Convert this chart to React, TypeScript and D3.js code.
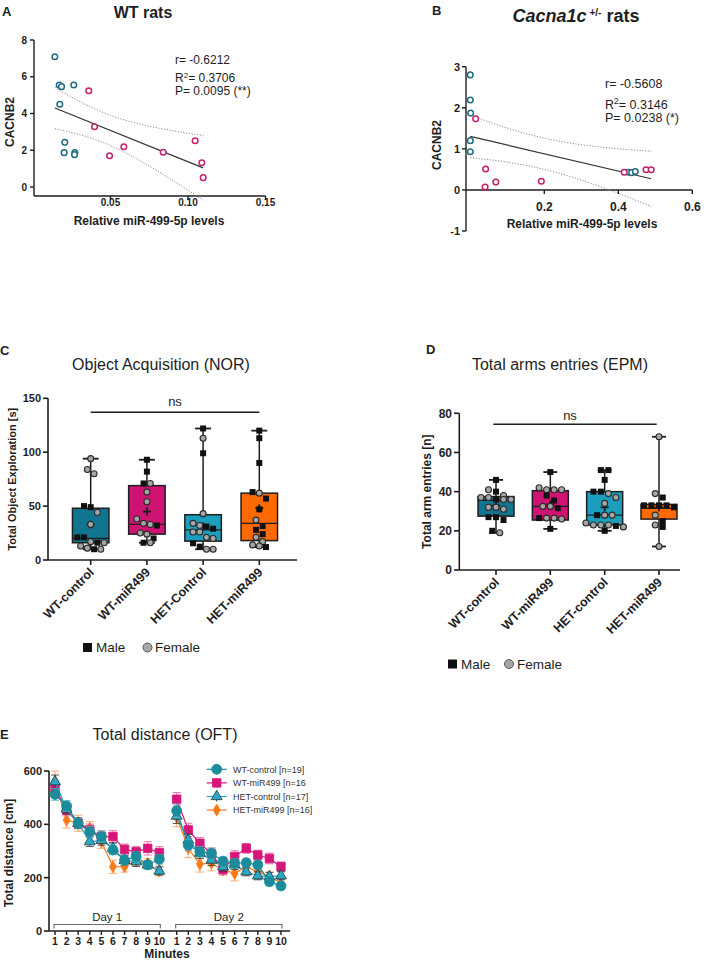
import React from "react";
import * as d3 from "d3";

const FONT = "'Liberation Sans', Arial, Helvetica, sans-serif";
const INK = "#1e1e1e";

// ---------------- Panel A : WT rats ----------------
const aWtControlX = [0.0141, 0.0169, 0.0184, 0.0263, 0.0173, 0.0205, 0.0201, 0.027, 0.0268];
const aWtControlY = [7.09, 5.55, 5.46, 5.55, 4.5, 2.43, 1.87, 1.87, 1.76];
const aWtMiRX = [0.036, 0.0397, 0.0494, 0.0586, 0.084, 0.1046, 0.1089, 0.1098];
const aWtMiRY = [5.24, 3.28, 1.7, 2.19, 1.89, 2.52, 1.32, 0.51];
const aXTicks = [0.05, 0.1, 0.15];
const aYTicks = [0, 2, 4, 6, 8];
const aStatR = "r= -0.6212";
const aStatR2 = "= 0.3706";
const aStatP = "P= 0.0095 (**)";

// ---------------- Panel B : Cacna1c +/- rats ----------------
const bHetControlX = [0.0, 0.0, 0.001, 0.0, 0.0, 0.427, 0.436, 0.446];
const bHetControlY = [2.8, 2.19, 1.87, 1.2, 0.93, 0.43, 0.42, 0.45];
const bHetMiRX = [0.0145, 0.0415, 0.04, 0.069, 0.192, 0.416, 0.475, 0.489];
const bHetMiRY = [1.73, 0.51, 0.07, 0.19, 0.21, 0.43, 0.49, 0.49];
const bXTicks = [0.2, 0.4, 0.6];
const bYTicks = [-1, 0, 1, 2, 3];
const bStatR = "r= -0.5608";
const bStatR2 = "= 0.3146";
const bStatP = "P= 0.0238 (*)";

// ---------------- Panel C : Object Acquisition (NOR) ----------------
const cGroups = ["WT-control", "WT-miR499", "HET-Control", "HET-miR499"];
const cMin = [10, 16, 10, 12];
const cQ1 = [16, 24, 17.5, 18];
const cMedian = [20, 33, 28, 34];
const cQ3 = [48, 69, 42, 62];
const cMax = [94, 93, 122, 120];
const cMean = [33, 45, 31, 48];
const cMale = [
  [50, 49, 21, 21, 16, 10],
  [93, 82, 71, 32, 20, 16],
  [122, 99, 31, 29, 15.5, 12.4],
  [120, 113, 90, 63, 57, 47, 31.5, 28, 24, 12],
];
const cFemale = [
  [94, 84, 80, 44, 33, 17, 16, 13, 11, 10],
  [71, 63, 54, 38, 34, 33, 25, 24, 16],
  [113, 43, 34, 32, 26, 26, 21, 20, 10, 10],
  [62, 37, 21, 17, 14, 13],
];
const cYTicks = [0, 50, 100, 150];

// ---------------- Panel D : Total arms entries (EPM) ----------------
const dGroups = ["WT-control", "WT-miR499", "HET-control", "HET-miR499"];
const dMin = [19, 21, 20, 12];
const dQ1 = [27.5, 25.5, 23, 26];
const dMedian = [35.5, 32.5, 28, 31.5];
const dQ3 = [37.5, 40.5, 40, 33.5];
const dMax = [46, 50, 51, 68];
const dMean = [33, 33.5, 32, 32];
const dMale = [
  [46, 40, 36, 27, 27, 25.5, 20],
  [50, 38, 35.5, 31.5, 26.5, 21],
  [51, 51, 46, 40, 40, 28, 22.5, 20],
  [37, 33, 33, 33, 33, 32, 25, 22],
];
const dFemale = [
  [41, 38, 37, 37, 36, 36, 32, 32, 31, 19],
  [42, 41, 41, 41, 32.5, 32.5, 26.5, 26.5, 26],
  [39, 37, 34, 28, 28, 24, 23, 23, 23, 22],
  [68, 39, 28, 23, 12],
];
const dYTicks = [0, 20, 40, 60, 80];

const boxColors = ["#12758f", "#cf1372", "#1a9fbd", "#ff6a00"];

// ---------------- Panel E : Total distance (OFT) ----------------
const eMinutes = ["1", "2", "3", "4", "5", "6", "7", "8", "9", "10"];
const eDays = ["Day 1", "Day 2"];
const eWtControl = [512, 469, 404, 372, 354, 304, 266, 279, 248, 269, 451, 322, 297, 291, 262, 254, 256, 248, 185, 169];
const eWtControlSem = [22, 20, 18, 20, 20, 18, 18, 18, 15, 18, 25, 20, 20, 20, 15, 18, 15, 15, 15, 12];
const eWtMiR = [537, 454, 404, 379, 354, 354, 306, 297, 310, 294, 494, 379, 329, 289, 231, 279, 310, 285, 272, 241];
const eWtMiRSem = [25, 22, 20, 22, 22, 22, 20, 20, 25, 22, 25, 25, 22, 22, 18, 22, 18, 18, 20, 18];
const eHetControl = [560, 458, 404, 335, 340, 310, 265, 260, 248, 225, 431, 341, 292, 266, 241, 248, 222, 207, 204, 207];
const eHetControlSem = [25, 20, 20, 18, 18, 20, 18, 18, 15, 15, 28, 22, 20, 20, 18, 18, 15, 15, 15, 15];
const eHetMiR = [560, 416, 404, 385, 335, 241, 241, 265, 253, 225, 426, 310, 251, 254, 229, 216, 241, 222, 204, 179];
const eHetMiRSem = [40, 30, 30, 25, 25, 25, 20, 20, 18, 18, 35, 35, 30, 28, 20, 28, 20, 20, 18, 18];
const eLegend = ["WT-control [n=19]", "WT-miR499 [n=16", "HET-control [n=17]", "HET-miR499 [n=16]"];
const eYTicks = [0, 200, 400, 600];

// ---------------- helpers ----------------
function regression(xs: number[], ys: number[], tCrit: number) {
  const n = xs.length;
  const mx = d3.mean(xs) as number;
  const my = d3.mean(ys) as number;
  let sxx = 0, sxy = 0;
  xs.forEach((x, i) => { sxx += (x - mx) ** 2; sxy += (x - mx) * (ys[i] - my); });
  const slope = sxy / sxx;
  const icpt = my - slope * mx;
  let sse = 0;
  xs.forEach((x, i) => { sse += (ys[i] - (icpt + slope * x)) ** 2; });
  const s = Math.sqrt(sse / (n - 2));
  const fit = (x: number) => icpt + slope * x;
  const half = (x: number) => tCrit * s * Math.sqrt(1 / n + (x - mx) ** 2 / sxx);
  return { fit, half, x0: d3.min(xs) as number, x1: d3.max(xs) as number };
}

function RegScatter(props: any) {
  const { x, y, g1x, g1y, g2x, g2y, tCrit, c1, c2 } = props;
  const xs = [...g1x, ...g2x];
  const ys = [...g1y, ...g2y];
  const reg = regression(xs, ys, tCrit);
  const samples = d3.range(0, 41).map((i) => reg.x0 + ((reg.x1 - reg.x0) * i) / 40);
  const up = d3.line<number>().x((v) => x(v)).y((v) => y(reg.fit(v) + reg.half(v)));
  const lo = d3.line<number>().x((v) => x(v)).y((v) => y(reg.fit(v) - reg.half(v)));
  return (
    <g>
      <path d={up(samples) as string} fill="none" stroke="#8a8a8a" strokeWidth={1} strokeDasharray="1.2,1.6" />
      <path d={lo(samples) as string} fill="none" stroke="#8a8a8a" strokeWidth={1} strokeDasharray="1.2,1.6" />
      <line x1={x(reg.x0)} y1={y(reg.fit(reg.x0))} x2={x(reg.x1)} y2={y(reg.fit(reg.x1))} stroke="#333" strokeWidth={1.2} />
      {g1x.map((v: number, i: number) => (
        <circle key={"a" + i} cx={x(v)} cy={y(g1y[i])} r={2.8} fill="white" stroke={c1} strokeWidth={1.5} />
      ))}
      {g2x.map((v: number, i: number) => (
        <circle key={"b" + i} cx={x(v)} cy={y(g2y[i])} r={2.8} fill="white" stroke={c2} strokeWidth={1.5} />
      ))}
    </g>
  );
}

function swarm(values: { v: number; male: boolean }[], y: (v: number) => number, d: number) {
  const sorted = [...values].sort((a, b) => b.v - a.v);
  const rows: { v: number; male: boolean }[][] = [];
  sorted.forEach((p) => {
    const row = rows[rows.length - 1];
    if (row && Math.abs(y(p.v) - y(row[0].v)) < d) row.push(p);
    else rows.push([p]);
  });
  const out: { v: number; male: boolean; dx: number }[] = [];
  rows.forEach((row) => {
    const k = row.length;
    row.forEach((p, i) => out.push({ ...p, dx: (i - (k - 1) / 2) * d }));
  });
  return out;
}

function BoxPanel(props: any) {
  const { groups, mins, q1s, meds, q3s, maxs, means, males, females, x, y, boxW, capW, dot, dotSize } = props;
  return (
    <g>
      {groups.map((g: string, i: number) => {
        const cx = x(g);
        const pts = swarm(
          [...males[i].map((v: number) => ({ v, male: true })), ...females[i].map((v: number) => ({ v, male: false }))],
          y,
          dot
        );
        return (
          <g key={g}>
            <line x1={cx} x2={cx} y1={y(maxs[i])} y2={y(q3s[i])} stroke={INK} strokeWidth={1.5} />
            <line x1={cx} x2={cx} y1={y(q1s[i])} y2={y(mins[i])} stroke={INK} strokeWidth={1.5} />
            <line x1={cx - capW / 2} x2={cx + capW / 2} y1={y(maxs[i])} y2={y(maxs[i])} stroke={INK} strokeWidth={1.8} />
            <line x1={cx - capW / 2} x2={cx + capW / 2} y1={y(mins[i])} y2={y(mins[i])} stroke={INK} strokeWidth={1.8} />
            <rect x={cx - boxW / 2} y={y(q3s[i])} width={boxW} height={y(q1s[i]) - y(q3s[i])} fill={boxColors[i]} stroke={INK} strokeWidth={1.5} />
            <line x1={cx - boxW / 2} x2={cx + boxW / 2} y1={y(meds[i])} y2={y(meds[i])} stroke={INK} strokeWidth={1.3} />
            <path d={`M${cx - 4},${y(means[i])}H${cx + 4}M${cx},${y(means[i]) - 4}V${y(means[i]) + 4}`} stroke={INK} strokeWidth={1.8} />
            {pts.map((p, j) =>
              p.male ? (
                <rect key={j} x={cx + p.dx - dotSize / 2} y={y(p.v) - dotSize / 2} width={dotSize} height={dotSize} fill="#111" />
              ) : (
                <circle key={j} cx={cx + p.dx} cy={y(p.v)} r={dotSize / 2} fill="#a6a6a6" stroke="#2a2a2a" strokeWidth={1.1} />
              )
            )}
          </g>
        );
      })}
    </g>
  );
}

function RotLabels(props: any) {
  const { groups, x, y0, size } = props;
  return (
    <g>
      {groups.map((g: string) => (
        <text key={g} transform={`translate(${x(g) + 4},${y0}) rotate(-45)`} textAnchor="end" fontSize={size} fontWeight="bold" fill={INK}>
          {g}
        </text>
      ))}
    </g>
  );
}

function MaleFemaleLegend(props: any) {
  const { sx, cx, tx1, tx2, yc, size } = props;
  return (
    <g fontSize={size} fill={INK}>
      <rect x={sx} y={yc - 4.5} width={9} height={9} fill="#111" />
      <text x={tx1} y={yc + size * 0.36}>Male</text>
      <circle cx={cx} cy={yc} r={4.5} fill="#a6a6a6" stroke="#555" strokeWidth={1} />
      <text x={tx2} y={yc + size * 0.36}>Female</text>
    </g>
  );
}

export default function App() {
  // ---- A scales
  const xA = d3.scaleLinear().domain([0, 0.15]).range([33, 265.5]);
  const yA = d3.scaleLinear().domain([0, 8]).range([187, 40]);
  const aAxisY = 196;
  // ---- B scales
  const xB = d3.scaleLinear().domain([0, 0.6]).range([470.3, 692.3]);
  const yB = d3.scaleLinear().domain([-1, 3]).range([231, 66.7]);
  const bAxisX = 466;
  // ---- C scales
  const xC = d3.scalePoint<string>().domain(cGroups).range([90.7, 259.3]);
  const yC = d3.scaleLinear().domain([0, 150]).range([560, 398.3]);
  // ---- D scales
  const xD = d3.scalePoint<string>().domain(dGroups).range([496, 659]);
  const yD = d3.scaleLinear().domain([0, 80]).range([570, 413.3]);
  // ---- E scales
  const eIndex = d3.range(20).map((i) => (i < 10 ? i : i + 0.5));
  const xE = d3.scaleLinear().domain([0, 19.5]).range([55, 281]);
  const yE = d3.scaleLinear().domain([0, 600]).range([931, 771]);

  const eSeries = [
    { vals: eHetMiR, sem: eHetMiRSem, color: "#ff7a1a", err: "#ff9a55", sym: d3.symbolDiamond, size: 42, stroke: "#ff7a1a" },
    { vals: eWtMiR, sem: eWtMiRSem, color: "#d6167a", err: "#e25a9e", sym: d3.symbolSquare, size: 72, stroke: "#d6167a" },
    { vals: eHetControl, sem: eHetControlSem, color: "#29a7c3", err: "#3a3a3a", sym: d3.symbolTriangle, size: 52, stroke: "#1c3b44" },
    { vals: eWtControl, sem: eWtControlSem, color: "#1b8c9c", err: "#55b8c6", sym: d3.symbolCircle, size: 78, stroke: "#1b8c9c" },
  ];
  const legendOrder = [3, 1, 2, 0];

  const axisStyle = { stroke: INK, strokeWidth: 1.6 };

  return (
    <svg width={709} height={960} style={{ position: "absolute", left: 0, top: 0, background: "white" }} fontFamily={FONT}>
      <rect width={709} height={960} fill="white" />

      {/* ================= A ================= */}
      <text x={2} y={16} fontSize={13} fontWeight="bold" fill={INK}>A</text>
      <text x={143} y={18} fontSize={16} fontWeight="bold" textAnchor="middle" fill={INK}>WT rats</text>
      <line x1={34} x2={34} y1={yA(8)} y2={aAxisY} {...axisStyle} strokeWidth={1.4} />
      <line x1={34} x2={xA(0.15)} y1={aAxisY} y2={aAxisY} {...axisStyle} strokeWidth={1.4} />
      {aYTicks.map((t) => (
        <g key={t}>
          <line x1={30} x2={34} y1={yA(t)} y2={yA(t)} stroke={INK} strokeWidth={1.4} />
          <text x={27} y={yA(t) + 3.6} fontSize={10} fontWeight="bold" textAnchor="end" fill={INK}>{t}</text>
        </g>
      ))}
      {aXTicks.map((t) => (
        <g key={t}>
          <line x1={xA(t)} x2={xA(t)} y1={aAxisY} y2={aAxisY + 4} stroke={INK} strokeWidth={1.4} />
          <text x={xA(t)} y={aAxisY + 10} fontSize={10} fontWeight="bold" textAnchor="middle" fill={INK}>{d3.format(".2f")(t)}</text>
        </g>
      ))}
      <text x={149} y={225} fontSize={12} fontWeight="bold" textAnchor="middle" fill={INK}>Relative miR-499-5p levels</text>
      <text transform="translate(14,122) rotate(-90)" fontSize={12} fontWeight="bold" textAnchor="middle" fill={INK}>CACNB2</text>
      <RegScatter x={xA} y={yA} g1x={aWtControlX} g1y={aWtControlY} g2x={aWtMiRX} g2y={aWtMiRY} tCrit={2.131} c1="#1d6c80" c2="#c4206c" />
      <g fontSize={12} fill={INK}>
        <text x={175} y={64}>{aStatR}</text>
        <text x={175} y={82}>R<tspan dy={-4} fontSize={8}>2</tspan><tspan dy={4}>{aStatR2}</tspan></text>
        <text x={175} y={94.5}>{aStatP}</text>
      </g>

      {/* ================= B ================= */}
      <text x={432} y={15} fontSize={13} fontWeight="bold" fill={INK}>B</text>
      <text x={576} y={21.5} fontSize={18} fontWeight="bold" textAnchor="middle" fill={INK}>
        <tspan fontStyle="italic">Cacna1c</tspan>
        <tspan dy={-6} fontSize={10}> +/-</tspan>
        <tspan dy={6}> rats</tspan>
      </text>
      <line x1={bAxisX} x2={bAxisX} y1={yB(3)} y2={yB(-1)} {...axisStyle} strokeWidth={1.4} />
      <line x1={bAxisX} x2={xB(0.6)} y1={yB(0)} y2={yB(0)} {...axisStyle} strokeWidth={1.4} />
      {bYTicks.map((t) => (
        <g key={t}>
          <line x1={bAxisX - 4} x2={bAxisX} y1={yB(t)} y2={yB(t)} stroke={INK} strokeWidth={1.4} />
          <text x={bAxisX - 6} y={yB(t) + 4} fontSize={11} fontWeight="bold" textAnchor="end" fill={INK}>{t}</text>
        </g>
      ))}
      {bXTicks.map((t) => (
        <g key={t}>
          <line x1={xB(t)} x2={xB(t)} y1={yB(0)} y2={yB(0) + 4} stroke={INK} strokeWidth={1.4} />
          <text x={xB(t)} y={yB(0) + 21} fontSize={12} fontWeight="bold" textAnchor="middle" fill={INK}>{d3.format(".1f")(t)}</text>
        </g>
      ))}
      <text x={582} y={228} fontSize={12} fontWeight="bold" textAnchor="middle" fill={INK}>Relative miR-499-5p levels</text>
      <text transform="translate(441,145) rotate(-90)" fontSize={12} fontWeight="bold" textAnchor="middle" fill={INK}>CACNB2</text>
      <RegScatter x={xB} y={yB} g1x={bHetControlX} g1y={bHetControlY} g2x={bHetMiRX} g2y={bHetMiRY} tCrit={2.145} c1="#1d6c80" c2="#c4206c" />
      <g fontSize={12.5} fill={INK}>
        <text x={605} y={87.5}>{bStatR}</text>
        <text x={605} y={108.5}>R<tspan dy={-4.5} fontSize={8.5}>2</tspan><tspan dy={4.5}>{bStatR2}</tspan></text>
        <text x={605} y={122}>{bStatP}</text>
      </g>

      {/* ================= C ================= */}
      <text x={0} y={355} fontSize={13} fontWeight="bold" fill={INK}>C</text>
      <text x={161} y={370} fontSize={16} textAnchor="middle" fill={INK}>Object Acquisition (NOR)</text>
      <line x1={48} x2={48} y1={yC(150)} y2={yC(0)} {...axisStyle} />
      <line x1={48} x2={297} y1={yC(0)} y2={yC(0)} {...axisStyle} />
      {cYTicks.map((t) => (
        <g key={t}>
          <line x1={43} x2={48} y1={yC(t)} y2={yC(t)} stroke={INK} strokeWidth={1.6} />
          <text x={41} y={yC(t) + 4} fontSize={11} fontWeight="bold" textAnchor="end" fill={INK}>{t}</text>
        </g>
      ))}
      {cGroups.map((g) => (
        <line key={g} x1={xC(g)} x2={xC(g)} y1={yC(0)} y2={yC(0) + 5} stroke={INK} strokeWidth={1.6} />
      ))}
      <text transform={`translate(16,${(yC(0) + yC(150)) / 2}) rotate(-90)`} fontSize={11} fontWeight="bold" textAnchor="middle" fill={INK}>Total Object Exploration [s]</text>
      <line x1={xC("WT-control")} x2={xC("HET-miR499")} y1={412.3} y2={412.3} stroke={INK} strokeWidth={1.4} />
      <text x={175} y={406} fontSize={13} textAnchor="middle" fill={INK}>ns</text>
      <BoxPanel groups={cGroups} mins={cMin} q1s={cQ1} meds={cMedian} q3s={cQ3} maxs={cMax} means={cMean} males={cMale} females={cFemale} x={xC} y={yC} boxW={36.5} capW={16} dot={6.7} dotSize={6} />
      <RotLabels groups={cGroups} x={xC} y0={573} size={12.5} />
      <MaleFemaleLegend sx={83} cx={147.5} tx1={96} tx2={155} yc={647.5} size={13.5} />

      {/* ================= D ================= */}
      <text x={426} y={354} fontSize={13} fontWeight="bold" fill={INK}>D</text>
      <text x={560} y={370} fontSize={16} textAnchor="middle" fill={INK}>Total arms entries (EPM)</text>
      <line x1={459.3} x2={459.3} y1={yD(80)} y2={yD(0)} {...axisStyle} />
      <line x1={459.3} x2={680} y1={yD(0)} y2={yD(0)} {...axisStyle} />
      {dYTicks.map((t) => (
        <g key={t}>
          <line x1={454} x2={459.3} y1={yD(t)} y2={yD(t)} stroke={INK} strokeWidth={1.6} />
          <text x={452} y={yD(t) + 4.3} fontSize={12} fontWeight="bold" textAnchor="end" fill={INK}>{t}</text>
        </g>
      ))}
      {dGroups.map((g) => (
        <line key={g} x1={xD(g)} x2={xD(g)} y1={yD(0)} y2={yD(0) + 5} stroke={INK} strokeWidth={1.6} />
      ))}
      <text transform={`translate(431,${(yD(0) + yD(80)) / 2}) rotate(-90)`} fontSize={12} fontWeight="bold" textAnchor="middle" fill={INK}>Total arm entries [n]</text>
      <line x1={493.3} x2={656.7} y1={424.3} y2={424.3} stroke={INK} strokeWidth={1.4} />
      <text x={570} y={420} fontSize={13} textAnchor="middle" fill={INK}>ns</text>
      <BoxPanel groups={dGroups} mins={dMin} q1s={dQ1} meds={dMedian} q3s={dQ3} maxs={dMax} means={dMean} males={dMale} females={dFemale} x={xD} y={yD} boxW={36} capW={14} dot={7.5} dotSize={6} />
      <RotLabels groups={dGroups} x={xD} y0={583} size={12.5} />
      <MaleFemaleLegend sx={448} cx={509} tx1={461} tx2={517} yc={664} size={13.5} />

      {/* ================= E ================= */}
      <text x={0} y={739} fontSize={13} fontWeight="bold" fill={INK}>E</text>
      <text x={165} y={740} fontSize={16} textAnchor="middle" fill={INK}>Total distance (OFT)</text>
      <line x1={49} x2={49} y1={yE(600)} y2={yE(0)} {...axisStyle} />
      <line x1={49} x2={290} y1={yE(0)} y2={yE(0)} {...axisStyle} />
      {eYTicks.map((t) => (
        <g key={t}>
          <line x1={44} x2={49} y1={yE(t)} y2={yE(t)} stroke={INK} strokeWidth={1.6} />
          <text x={42} y={yE(t) + 4} fontSize={11} fontWeight="bold" textAnchor="end" fill={INK}>{t}</text>
        </g>
      ))}
      {eIndex.map((p, i) => (
        <g key={i}>
          <line x1={xE(p)} x2={xE(p)} y1={yE(0)} y2={yE(0) + 4} stroke={INK} strokeWidth={1.4} />
          <text x={xE(p)} y={yE(0) + 14} fontSize={10.5} fontWeight="bold" textAnchor="middle" fill={INK}>{eMinutes[i % 10]}</text>
        </g>
      ))}
      <text x={167} y={958} fontSize={12} fontWeight="bold" textAnchor="middle" fill={INK}>Minutes</text>
      <text transform={`translate(13,${(yE(0) + yE(600)) / 2 + 2}) rotate(-90)`} fontSize={12} fontWeight="bold" textAnchor="middle" fill={INK}>Total distance [cm]</text>
      {eDays.map((dName, k) => {
        const x0 = xE(eIndex[k * 10]) - 1;
        const x1 = xE(eIndex[k * 10 + 9]) + 1;
        return (
          <g key={dName}>
            <path d={`M${x0},${928.5}V${924.5}H${x1}V${928.5}`} fill="none" stroke="#6a6a6a" strokeWidth={1.1} />
            <text x={(x0 + x1) / 2} y={921} fontSize={11.5} textAnchor="middle" fill={INK}>{dName}</text>
          </g>
        );
      })}
      {eSeries.map((s, si) => {
        const line = d3.line<number>().x((i) => xE(eIndex[i])).y((i) => yE(s.vals[i]));
        const sym = d3.symbol().type(s.sym).size(s.size)();
        return (
          <g key={si}>
            {[0, 1].map((k) => (
              <path key={k} d={line(d3.range(k * 10, k * 10 + 10)) as string} fill="none" stroke={s.color} strokeWidth={1.2} />
            ))}
            {s.vals.map((v, i) => {
              const px = xE(eIndex[i]);
              return (
                <g key={i} stroke={s.err} strokeWidth={1} opacity={0.85}>
                  <line x1={px} x2={px} y1={yE(v + s.sem[i])} y2={yE(v - s.sem[i])} />
                  <line x1={px - 4} x2={px + 4} y1={yE(v + s.sem[i])} y2={yE(v + s.sem[i])} />
                  <line x1={px - 4} x2={px + 4} y1={yE(v - s.sem[i])} y2={yE(v - s.sem[i])} />
                </g>
              );
            })}
            {s.vals.map((v, i) => (
              <path key={"m" + i} d={sym as string} transform={`translate(${xE(eIndex[i])},${yE(v)})`} fill={s.color} stroke={s.stroke} strokeWidth={0.8} />
            ))}
          </g>
        );
      })}
      {legendOrder.map((si, r) => {
        const s = eSeries[si];
        const yy = 769.3 + r * 13.6;
        const sym = d3.symbol().type(s.sym).size(s.size)();
        return (
          <g key={r}>
            <line x1={206.7} x2={226.7} y1={yy} y2={yy} stroke={s.color} strokeWidth={1.2} />
            <line x1={216.7} x2={216.7} y1={yy - 5} y2={yy + 5} stroke={s.err} strokeWidth={1} />
            <path d={sym as string} transform={`translate(216.7,${yy})`} fill={s.color} stroke={s.stroke} strokeWidth={0.8} />
            <text x={233} y={yy + 3.2} fontSize={9} fill="#333">{eLegend[r]}</text>
          </g>
        );
      })}
    </svg>
  );
}
